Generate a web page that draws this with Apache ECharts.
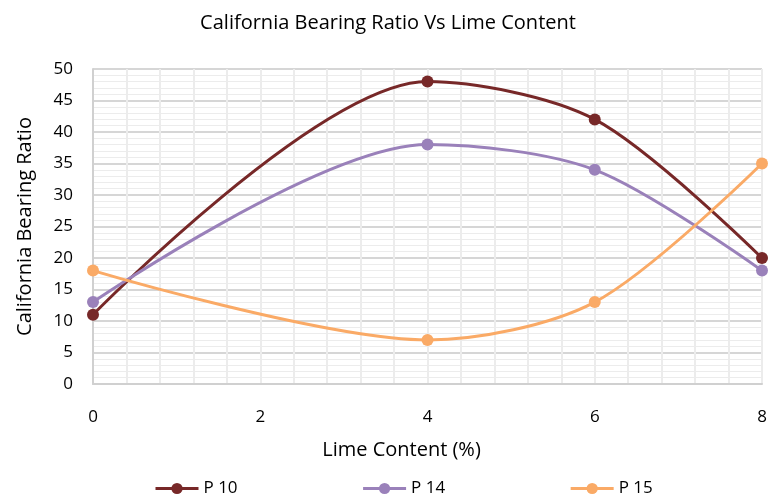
<!DOCTYPE html>
<html><head><meta charset="utf-8">
<script src="https://cdn.jsdelivr.net/npm/echarts@6/dist/echarts.min.js"></script>
<style>html,body{margin:0;padding:0;background:#fff}#c{width:776px;height:499px}</style>
</head><body><div id="c"></div>
<script>
const limeContent = [0, 4, 6, 8];
const p10 = [11, 48, 42, 20];
const p14 = [13, 38, 34, 18];
const p15 = [18, 7, 13, 35];
const seriesNames = ['P 10', 'P 14', 'P 15'];
const colors = ['#772828', '#9A81BA', '#FAAA66'];
const FONT = 'Open Sans';
const chart = echarts.init(document.getElementById('c'));
const mk = (name, vals, color) => ({
  name, type: 'line', smooth: 0.3,
  data: limeContent.map((x, i) => [x, vals[i]]),
  symbol: 'circle', symbolSize: 12,
  lineStyle: {width: 3, color}, itemStyle: {color},
});
chart.setOption({
  animation: false,
  textStyle: {fontFamily: FONT},
  title: {text: 'California Bearing Ratio Vs Lime Content', left: 'center', top: 8,
    textStyle: {fontFamily: FONT, fontSize: 20, fontWeight: 'normal', color: '#000'}},
  legend: {left: 149, top: 475, itemGap: 124, itemWidth: 43, itemHeight: 14,
    lineStyle: {width: 3},
    textStyle: {fontFamily: FONT, fontSize: 17, color: '#000'},
    data: seriesNames},
  grid: {left: 93, right: 14, top: 69, bottom: 115},
  xAxis: {type: 'value', min: 0, max: 8, interval: 2,
    name: 'Lime Content (%)', nameLocation: 'middle', nameGap: 56,
    nameTextStyle: {fontFamily: FONT, fontSize: 20, color: '#000', padding: [0, 52, 0, 0]},
    axisLine: {lineStyle: {color: '#d0d0d0', width: 2}}, axisTick: {show: false},
    axisLabel: {fontFamily: FONT, fontSize: 17, color: '#000', margin: 25},
    splitLine: {show: true, lineStyle: {color: '#ececec', width: 2}},
    minorTick: {show: false, splitNumber: 5},
    minorSplitLine: {show: true, lineStyle: {color: '#ececec', width: 2}}},
  yAxis: {type: 'value', min: 0, max: 50, interval: 5,
    name: 'California Bearing Ratio', nameLocation: 'middle', nameGap: 58,
    nameTextStyle: {fontFamily: FONT, fontSize: 20, color: '#000'},
    axisLine: {show: true, lineStyle: {color: '#d0d0d0', width: 2}}, axisTick: {show: false},
    axisLabel: {fontFamily: FONT, fontSize: 17, color: '#000', margin: 20},
    splitLine: {show: true, lineStyle: {color: '#d6d6d6', width: 2}},
    minorTick: {show: false, splitNumber: 5},
    minorSplitLine: {show: true, lineStyle: {color: '#ececec', width: 1}}},
  series: [mk(seriesNames[0], p10, colors[0]), mk(seriesNames[1], p14, colors[1]), mk(seriesNames[2], p15, colors[2])]
});
</script></body></html>
